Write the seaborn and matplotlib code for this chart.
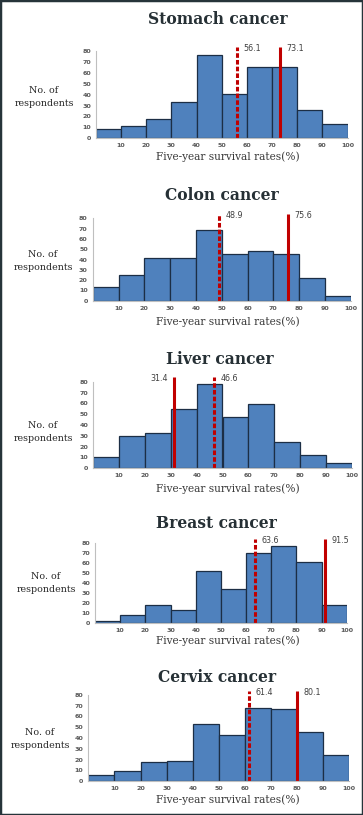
import numpy as np
import pandas as pd
import seaborn as sns
import matplotlib.pyplot as plt
from matplotlib.patches import Rectangle

sns.set_style("white")

# bins of 10 points each, 0-100
bin_mid = [5, 15, 25, 35, 45, 55, 65, 75, 85, 95]

cancers = ["Stomach cancer", "Colon cancer", "Liver cancer", "Breast cancer", "Cervix cancer"]
stomach = [8.5, 11, 18, 33, 76, 41, 65, 65, 26, 13]
colon = [13, 25, 41, 41, 69, 45, 48, 45, 22, 5]
liver = [10, 30, 33, 55, 78, 47, 59, 24, 12, 5]
breast = [2, 8, 18, 13, 52, 34, 70, 77, 61, 18]
cervix = [6, 9, 18, 19, 53, 43, 68, 67, 46, 24]
counts = [stomach, colon, liver, breast, cervix]

# dashed / solid reference lines
dashed_vals = [56.1, 48.9, 46.6, 63.6, 61.4]
solid_vals = [73.1, 75.6, 31.4, 91.5, 80.1]

W, H = 363, 815
# pixel boxes: x at 0, x at 100, y at 80, y at 0
boxes = [(96, 347.5, 51, 138.3),
         (92.7, 350.7, 218.3, 300.7),
         (93.3, 351.7, 381.7, 468.3),
         (95, 346.7, 542.7, 623.3),
         (88.3, 349.3, 695, 781)]
title_xy = [(218, 20), (222, 195), (220, 359), (216, 523), (217, 677)]
ylab_xy = [(44, 97), (43, 261), (43, 432), (46, 583), (40, 739)]
xlab_y = [157, 322, 489, 641, 800]

blue = "#4f81bd"
red = "#c00000"

fig = plt.figure(figsize=(W / 100, H / 100), dpi=100)
fig.patches.append(Rectangle((0, 0), 1, 1, transform=fig.transFigure, fill=False,
                             edgecolor="#26343a", linewidth=2.5))

for i in range(5):
    x0, x1, yt, yb = boxes[i]
    ax = fig.add_axes([x0 / W, 1 - yb / H, (x1 - x0) / W, (yb - yt) / H])
    df = pd.DataFrame({"rate": bin_mid, "n": counts[i]})
    sns.histplot(data=df, x="rate", weights="n", binwidth=10, binrange=(0, 100), ax=ax,
                 color=blue, alpha=1, edgecolor="#1c2e45", linewidth=0.9)
    ax.set_xlim(0, 100)
    ax.set_ylim(0, 80)
    ax.set_xticks(np.arange(10, 101, 10))
    ax.set_yticks(np.arange(0, 81, 10))
    ax.tick_params(labelsize=4.6, colors="#595959", length=2, width=0.6, pad=1.5)
    for lab in ax.get_xticklabels() + ax.get_yticklabels():
        lab.set_fontweight("bold")
    ax.set_xlabel("")
    ax.set_ylabel("")
    sns.despine(ax=ax)
    for s in ["left", "bottom"]:
        ax.spines[s].set_color("#bfbfbf")
        ax.spines[s].set_linewidth(0.8)

    # mean (dashed) and median (solid) lines
    ax.plot([dashed_vals[i]] * 2, [0, 84], color=red, linewidth=2.2, clip_on=False,
            dashes=(1.5, 0.7), solid_capstyle="butt")
    ax.plot([solid_vals[i]] * 2, [0, 84], color=red, linewidth=2.2, clip_on=False,
            solid_capstyle="butt")
    for v in [dashed_vals[i], solid_vals[i]]:
        if i == 2 and v == solid_vals[i]:
            ax.text(v - 2.5, 82.5, f"{v}", ha="right", va="center", fontsize=5.8, color="#404040")
        else:
            ax.text(v + 2.5, 82.5, f"{v}", ha="left", va="center", fontsize=5.8, color="#404040")

    tx, ty = title_xy[i]
    fig.text(tx / W, 1 - ty / H, cancers[i], ha="center", va="center", fontsize=11.2,
             fontweight="bold", family="DejaVu Serif", color="#263035")
    fig.text(228 / W, 1 - xlab_y[i] / H, "Five-year survival rates(%)", ha="center", va="center",
             fontsize=7.6, family="DejaVu Serif", color="#3a3a3a")
    lx, ly = ylab_xy[i]
    fig.text(lx / W, 1 - ly / H, "No. of\nrespondents", ha="center", va="center",
             fontsize=6.8, family="DejaVu Serif", color="#262626", linespacing=1.45)

fig.savefig("out.png", dpi=100)
